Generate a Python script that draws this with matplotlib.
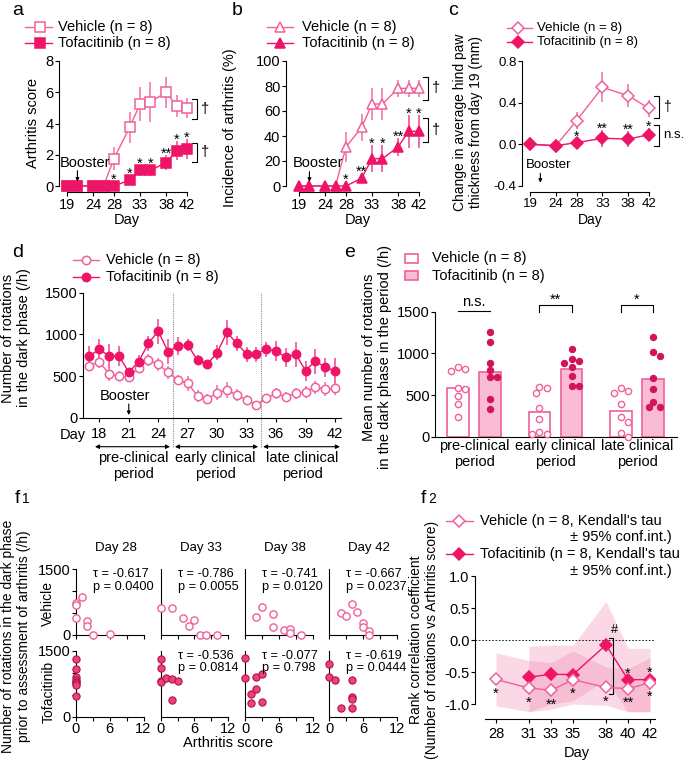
import numpy as np
import matplotlib
matplotlib.use('Agg')
import matplotlib.pyplot as plt
from matplotlib.lines import Line2D
from matplotlib.patches import Rectangle

plt.rcParams['font.family'] = ['Liberation Sans', 'DejaVu Sans']
plt.rcParams['font.size'] = 10.5
plt.rcParams['axes.linewidth'] = 0.8

# ---------------- data ----------------
days_ab = [19, 21, 24, 26, 28, 31, 33, 35, 38, 40, 42]
a_ticks = [19, 24, 28, 33, 38, 42]
a_vehicle = [0, 0, 0, 0, 1.75, 3.75, 5.25, 5.375, 6.0, 5.125, 5.0]
a_vehicle_sem = [0, 0, 0, 0, 0.75, 1.0, 1.1, 1.25, 1.0, 0.7, 0.65]
a_tofa = [0, 0, 0, 0, 0, 0.375, 1.0, 1.0, 1.5, 2.25, 2.375]
a_tofa_sem = [0, 0, 0, 0, 0, 0.2, 0.37, 0.35, 0.47, 0.6, 0.65]
a_stars = ['', '', '', '', '*', '*', '*', '*', '**', '*', '*']

b_vehicle = [0, 0, 0, 0, 31.25, 46.875, 65.625, 65.625, 78.125, 78.125, 78.125]
b_vehicle_sem = [0, 0, 0, 0, 12, 11, 12.5, 13, 7, 7, 7]
b_tofa = [0, 0, 0, 0, 0, 6.25, 21.875, 21.875, 31.25, 43.75, 43.75]
b_tofa_sem = [0, 0, 0, 0, 0, 3, 11, 11, 7.5, 13, 13]
b_stars = ['', '', '', '', '*', '**', '*', '*', '**', '*', '*']

days_c = [19, 24, 28, 33, 38, 42]
c_vehicle = [0, -0.013, 0.227, 0.547, 0.467, 0.345]
c_vehicle_sem = [0, 0.01, 0.08, 0.145, 0.11, 0.08]
c_tofa = [0, -0.013, 0.016, 0.058, 0.05, 0.093]
c_tofa_sem = [0, 0.01, 0.03, 0.08, 0.08, 0.065]
c_stars = ['', '', '*', '**', '**', '*']

days_d = list(range(17, 43))
d_ticks = [18, 21, 24, 27, 30, 33, 36, 39, 42]
d_vehicle = [624, 672, 524, 500, 484, 600, 692, 640, 544, 452, 412, 264, 224,
             300, 332, 272, 212, 152, 232, 292, 252, 292, 312, 364, 344, 352]
d_vehicle_sem = [60, 70, 80, 55, 60, 60, 70, 80, 80, 60, 90, 70, 60,
                 90, 100, 70, 60, 40, 50, 70, 60, 70, 70, 80, 80, 80]
d_tofa = [740, 820, 740, 740, 545, 672, 892, 1040, 792, 860, 872, 692, 644,
          780, 1024, 892, 764, 764, 824, 800, 724, 764, 564, 680, 604, 564]
d_tofa_sem = [120, 120, 140, 120, 50, 80, 90, 150, 150, 110, 70, 60, 40,
              90, 150, 90, 90, 90, 90, 120, 110, 150, 120, 150, 115, 150]

e_groups = ['pre-clinical\nperiod', 'early clinical\nperiod', 'late clinical\nperiod']
e_vehicle_mean = [580, 292, 304]
e_tofa_mean = [780, 808, 692]
e_vehicle_dots = [[816, 832, 788, 568, 580, 488, 392, 240],
                  [580, 600, 530, 340, 215, 30, 30, 60],
                  [548, 580, 528, 392, 232, 172, 40, 0]]
e_tofa_dots = [[1260, 1140, 880, 800, 720, 720, 448, 328],
               [1048, 932, 908, 880, 832, 728, 608, 608],
               [1200, 1020, 968, 708, 568, 420, 360, 352]]
e_sig = ['n.s.', '**', '*']

f1_days = ['Day 28', 'Day 33', 'Day 38', 'Day 42']
f1_veh_score = [[0, 0, 0, 1, 2, 2, 3, 6], [0, 2, 4, 5, 6, 7, 8, 10],
                [2, 3, 5, 5, 7, 8, 8, 10], [2, 3, 4, 5, 6, 6, 7, 7]]
f1_veh_rot = [[740, 685, 380, 875, 325, 205, 0, 25], [610, 610, 380, 205, 350, 0, 0, 0],
              [420, 630, 480, 175, 115, 130, 40, 0], [495, 435, 710, 530, 280, 175, 100, 0]]
f1_tof_score = [[0, 0, 0, 0, 0, 0, 0, 0], [0, 0, 0, 0, 1, 2, 3, 2],
                [0, 0, 1, 1, 2, 2, 3, 3], [0, 0, 1, 2, 4, 4, 4, 4]]
f1_tof_rot = [[1305, 1080, 895, 835, 795, 760, 720, 475], [1305, 1100, 811, 800, 886, 857, 811, 380],
              [1327, 886, 509, 318, 909, 623, 970, 341], [1198, 909, 834, 191, 834, 441, 396, 191]]
f1_veh_tau = ['-0.617', '-0.786', '-0.741', '-0.667']
f1_veh_p = ['0.0400', '0.0055', '0.0120', '0.0237']
f1_tof_tau = [None, '-0.536', '-0.077', '-0.619']
f1_tof_p = [None, '0.0814', '0.798', '0.0444']

f2_days_veh = [28, 31, 33, 35, 38, 40, 42]
f2_veh_tau = [-0.617, -0.75, -0.786, -0.62, -0.741, -0.76, -0.667]
f2_veh_lo = [-1.03, -1.12, -1.08, -1.0, -1.02, -1.12, -1.12]
f2_veh_hi = [-0.2, -0.32, -0.35, -0.17, -0.42, -0.45, -0.28]
f2_veh_stars = ['*', '*', '**', '*', '*', '**', '*']
f2_days_tof = [31, 33, 35, 38, 40, 42]
f2_tof_tau = [-0.58, -0.536, -0.54, -0.077, -0.62, -0.619]
f2_tof_lo = [-1.12, -1.0, -0.95, -0.62, -1.12, -1.12]
f2_tof_hi = [-0.1, -0.08, -0.08, 0.6, -0.13, -0.13]
f2_tof_stars = ['', '', '', '', '*', '*']
f2_ticks = [28, 31, 33, 35, 38, 40, 42]

# ---------------- styles ----------------
VEH = '#f0609a'
TOF = '#ee1468'
ERR_V = '#f384ae'
ERR_T = '#f2609a'
BAR_T = '#fabcd5'
DOT_T = '#d2145a'
F1_T = '#e6437f'
F1_TE = '#b8104c'

W, H = 685, 764
fig = plt.figure(figsize=(W / 100, H / 100), dpi=100)


def lin(d1, p1, d2, p2):
    k = (p2 - p1) / (d2 - d1)
    return lambda d: p1 + (d - d1) * k


def make_ax(xlim, ylim, xmap, ymap, fs=10.5):
    fx, fy = lin(*xmap), lin(*ymap)
    x0, x1 = fx(xlim[0]), fx(xlim[1])
    yt, yb = fy(ylim[1]), fy(ylim[0])
    ax = fig.add_axes([x0 / W, 1 - yb / H, (x1 - x0) / W, (yb - yt) / H])
    ax.set_xlim(xlim)
    ax.set_ylim(ylim)
    ax.patch.set_alpha(0)
    for s in ('top', 'right'):
        ax.spines[s].set_visible(False)
    ax.tick_params(direction='out', length=3, width=0.8, labelsize=fs, pad=1)
    return ax


def T(x, y, s, **kw):
    return fig.text(x / W, 1 - y / H, s, **kw)


def legend_line(x0, x1, xm, y, marker, ms, color, mfc, text, tx, fs=10.5):
    yy = 1 - y / H
    fig.add_artist(Line2D([x0 / W, x1 / W], [yy, yy], color=color, lw=1,
                          transform=fig.transFigure))
    fig.add_artist(Line2D([xm / W], [yy], marker=marker, ms=ms, mfc=mfc, mec=color,
                          mew=1.1, ls='none', transform=fig.transFigure))
    T(tx, y, text, va='center', ha='left', fontsize=fs)


def series(ax, x, y, e, marker, ms, color, mfc, ecolor):
    ax.errorbar(x, y, yerr=e, fmt='none', ecolor=ecolor, elinewidth=1.3,
                capsize=0, zorder=2, clip_on=False)
    ax.plot(x, y, color=color, lw=1, marker=marker, ms=ms, mfc=mfc, mec=color,
            mew=1.1, zorder=3, clip_on=False)


def stars(ax, x, top, labels, dy=-2, fs=10.5):
    for xi, ti, s in zip(x, top, labels):
        if s:
            ax.annotate(s, (xi, ti), xytext=(0, dy), textcoords='offset points',
                        ha='center', va='baseline', fontsize=fs, annotation_clip=False)


def bracket(ax, x0, x1, ylo, yhi, label, tx, fs=10.5):
    ax.plot([x0, x1, x1, x0], [yhi, yhi, ylo, ylo], color='k', lw=0.8, clip_on=False)
    ax.text(tx, (ylo + yhi) / 2, label, ha='left', va='center', fontsize=fs)


def booster(ax, xa, ya0, ya1, xt, yt, fs=10.5):
    ax.text(xt, yt, 'Booster', ha='center', va='center', fontsize=fs)
    ax.annotate('', xy=(xa, ya1), xytext=(xa, ya0),
                arrowprops=dict(arrowstyle='-|>', color='k', lw=0.8,
                                mutation_scale=5, shrinkA=0, shrinkB=0),
                annotation_clip=False)


# ---------------- panel a ----------------
ax = make_ax((17.47, 44), (-0.4, 8), (19, 67, 42, 187), (0, 186, 8, 61))
ax.spines['left'].set_bounds(0, 8)
ax.spines['bottom'].set_bounds(19, 42)
ax.set_xticks(a_ticks)
ax.set_yticks([0, 2, 4, 6, 8])
series(ax, days_ab, a_vehicle, a_vehicle_sem, 's', 6.5, VEH, 'white', ERR_V)
series(ax, days_ab, a_tofa, a_tofa_sem, 's', 6.5, TOF, TOF, ERR_T)
stars(ax, days_ab, np.array(a_tofa) + np.maximum(a_tofa_sem, 0.3), a_stars)
bracket(ax, 42.96, 43.92, 4.3, 5.6, '†', 44.7)
bracket(ax, 42.96, 43.92, 1.56, 2.73, '†', 44.7)
booster(ax, 21, 0.98, 0.28, 22.45, 1.49)
T(18, 15, 'a', fontsize=14, ha='center', va='baseline')
T(33, 123, 'Arthritis score', rotation=90, ha='center', va='center')
T(127, 220, 'Day', ha='center', va='center')
legend_line(25, 52, 40, 27, 's', 6.5, VEH, 'white', 'Vehicle (n = 8)', 58)
legend_line(25, 52, 40, 43, 's', 6.5, TOF, TOF, 'Tofacitinib (n = 8)', 58)

# ---------------- panel b ----------------
ax = make_ax((16.5, 44), (-5, 100), (19, 299, 42, 419), (0, 186, 100, 61))
ax.spines['left'].set_bounds(0, 100)
ax.spines['bottom'].set_bounds(19, 42)
ax.set_xticks(a_ticks)
ax.set_yticks([0, 20, 40, 60, 80, 100])
series(ax, days_ab, b_vehicle, b_vehicle_sem, '^', 7, VEH, 'white', ERR_V)
series(ax, days_ab, b_tofa, b_tofa_sem, '^', 7, TOF, TOF, ERR_T)
stars(ax, days_ab, np.array(b_tofa) + np.maximum(b_tofa_sem, 4), b_stars)
bracket(ax, 42.83, 43.67, 69, 87.5, '†', 44.5)
bracket(ax, 42.83, 43.67, 35.5, 54, '†', 44.5)
booster(ax, 21, 11.4, 3.4, 22.55, 18.4)
T(237, 15, 'b', fontsize=14, ha='center', va='baseline')
T(230, 128, 'Incidence of arthritis (%)', rotation=90, ha='center', va='center')
T(358, 220, 'Day', ha='center', va='center')
legend_line(267, 293, 280, 27, '^', 7, VEH, 'white', 'Vehicle (n = 8)', 302)
legend_line(267, 293, 280, 43, '^', 7, TOF, TOF, 'Tofacitinib (n = 8)', 302)

# ---------------- panel c ----------------
ax = make_ax((17.45, 44), (-0.46, 0.8), (19, 530, 42, 649), (0, 144.3, 0.8, 61), fs=9.5)
ax.spines['left'].set_bounds(-0.4, 0.8)
ax.spines['bottom'].set_bounds(19, 42)
ax.set_xticks(a_ticks)
ax.set_yticks([-0.4, 0.0, 0.4, 0.8])
ax.set_yticklabels(['-0.4', '0.0', '0.4', '0.8'])
series(ax, days_c, c_vehicle, c_vehicle_sem, 'D', 6, VEH, 'white', ERR_V)
series(ax, days_c, c_tofa, c_tofa_sem, 'D', 6, TOF, TOF, ERR_T)
stars(ax, days_c, np.array(c_tofa) + np.maximum(c_tofa_sem, 0.04), c_stars, fs=10)
bracket(ax, 42.98, 44.0, 0.25, 0.46, '†', 44.7, fs=10)
bracket(ax, 42.98, 44.0, -0.02, 0.19, 'n.s.', 44.7, fs=9.5)
booster(ax, 21, -0.279, -0.369, 22.67, -0.199, fs=9.5)
T(453, 15, 'c', fontsize=14, ha='center', va='baseline')
T(468, 122, 'Change in average hind paw\nthickness from day 19 (mm)', rotation=90,
  ha='center', va='center', fontsize=10, linespacing=1.1)
T(590, 220, 'Day', ha='center', va='center', fontsize=10)
legend_line(507, 532, 518, 28, 'D', 6, VEH, 'white', 'Vehicle (n = 8)', 537, fs=9.5)
legend_line(507, 532, 518, 42, 'D', 6, TOF, TOF, 'Tofacitinib (n = 8)', 537, fs=9.5)

# ---------------- panel d ----------------
ax = make_ax((16.34, 42.6), (0, 1500), (18, 99.3, 42, 335), (0, 417.7, 1500, 292.7))
ax.set_xticks(d_ticks)
ax.set_yticks([0, 500, 1000, 1500])
ax.tick_params(axis='x', pad=3.5)
series(ax, days_d, d_vehicle, d_vehicle_sem, 'o', 6, VEH, 'white', ERR_V)
series(ax, days_d, d_tofa, d_tofa_sem, 'o', 6, TOF, TOF, ERR_T)
for xv in (25.5, 34.5):
    ax.plot([xv, xv], [-352, 1500], ls=(0, (1, 1)), color='#888888', lw=0.8, clip_on=False)
for xa, xb in ((17.56, 25.2), (25.7, 34.17), (34.68, 42.5)):
    ax.annotate('', xy=(xb, -348), xytext=(xa, -348),
                arrowprops=dict(arrowstyle='<|-|>', color='k', lw=0.8, mutation_scale=6,
                                shrinkA=0, shrinkB=0), annotation_clip=False)
booster(ax, 21, 164, 32, 20.6, 260)
T(133, 466, 'pre-clinical\nperiod', ha='center', va='center', linespacing=1.1)
T(215, 466, 'early clinical\nperiod', ha='center', va='center', linespacing=1.1)
T(302, 466, 'late clinical\nperiod', ha='center', va='center', linespacing=1.1)
T(73, 435, 'Day', ha='center', va='center')
T(18, 257, 'd', fontsize=14, ha='center', va='baseline')
T(16, 338, 'Number of rotations\nin the dark phase (/h)', rotation=90, ha='center',
  va='center', linespacing=1.1)
legend_line(73, 99, 86, 260, 'o', 6, VEH, 'white', 'Vehicle (n = 8)', 106)
legend_line(73, 99, 86, 277, 'o', 6, TOF, TOF, 'Tofacitinib (n = 8)', 106)

# ---------------- panel e ----------------
ax = make_ax((-0.475, 2.49), (0, 1500), (0, 474, 2, 637), (0, 436.7, 1500, 311.7))
ax.set_yticks([0, 500, 1000, 1500])
ax.set_xticks([0, 1, 2])
ax.set_xticklabels(e_groups, linespacing=1.1)
ax.tick_params(axis='x', length=0, pad=2)
off = 0.197
bw = 0.266
xpx, ypx = 81.5, 125 / 1500


def swarm(vals, d_px=6.5):
    vals = np.asarray(vals, float)
    order = np.argsort(vals)[::-1]
    placed = []
    xs = np.zeros(len(vals))
    for i in order:
        y = vals[i] * ypx
        x = 0.0
        for k in (0, 1, -1, 2, -2, 3, -3):
            x = k * d_px * 0.55
            if all((x - a) ** 2 + (y - b) ** 2 >= d_px ** 2 for a, b in placed):
                break
        placed.append((x, y))
        xs[i] = x / xpx
    return xs


for i in range(3):
    ax.bar(i - off, e_vehicle_mean[i], width=bw, facecolor='white', edgecolor=VEH, lw=1.2, zorder=2)
    ax.bar(i + off, e_tofa_mean[i], width=bw, facecolor=BAR_T, edgecolor=VEH, lw=1.2, zorder=2)
    ax.plot(i - off + swarm(e_vehicle_dots[i]), e_vehicle_dots[i], 'o', ms=4.5, mfc='white',
            mec=VEH, mew=1, zorder=3, clip_on=False)
    ax.plot(i + off + swarm(e_tofa_dots[i]), e_tofa_dots[i], 'o', ms=4.5, mfc=DOT_T,
            mec=DOT_T, mew=0.8, zorder=3, clip_on=False)
    if e_sig[i] == 'n.s.':
        ax.plot([i - off, i + off], [1512, 1512], color='k', lw=0.8, clip_on=False)
        ax.annotate('n.s.', (i, 1512), xytext=(0, 1), textcoords='offset points',
                    ha='center', va='bottom', annotation_clip=False)
    else:
        ax.plot([i - off, i - off, i + off, i + off], [1500, 1580, 1580, 1500], color='k',
                lw=0.8, clip_on=False)
        ax.annotate(e_sig[i], (i, 1580), xytext=(0, 1.2), textcoords='offset points',
                    ha='center', va='baseline', annotation_clip=False)
T(350, 257, 'e', fontsize=14, ha='center', va='baseline')
T(377, 357, 'Mean number of rotations\nin the dark phase in the period (/h)', rotation=90,
  ha='center', va='center', linespacing=1.1)
for yy, fc, txt in ((258, 'white', 'Vehicle (n = 8)'), (275.7, BAR_T, 'Tofacitinib (n = 8)')):
    fig.add_artist(Rectangle((405 / W, 1 - (yy + 4.5) / H), 13 / W, 9 / H, facecolor=fc,
                             edgecolor=VEH, lw=1.2, transform=fig.transFigure))
    T(432, yy, txt, va='center', ha='left')

# ---------------- panel f1 ----------------
axis_x = [76, 160.7, 245, 329.3]
T(17, 503, 'f', fontsize=14, ha='center', va='baseline')
T(22, 503, '1', fontsize=10, ha='left', va='baseline')
for c in range(4):
    for r, (ymap, sc, rot) in enumerate((((0, 635, 1500, 569.3), f1_veh_score, f1_veh_rot),
                                          ((0, 716.7, 1500, 650.7), f1_tof_score, f1_tof_rot))):
        ax = make_ax((0, 12), (0, 1500), (0, axis_x[c], 12, axis_x[c] + 67.5), ymap)
        ax.set_xticks([0, 3, 6, 9, 12])
        if r == 1:
            ax.set_xticklabels(['0', '', '6', '', '12'])
            ax.tick_params(axis='x', pad=0.5)
        else:
            ax.set_xticklabels([])
        if c == 0:
            ax.set_yticks([0, 500, 1000, 1500])
            ax.set_yticklabels(['0', '', '', '1500'])
        else:
            ax.set_yticks([])
        if r == 0:
            ax.plot(sc[c], rot[c], 'o', ms=5.2, mfc='white', mec=VEH, mew=1, clip_on=False, zorder=3)
            tau, p = f1_veh_tau[c], f1_veh_p[c]
            ty = 574.3
        else:
            ax.plot(sc[c], rot[c], 'o', ms=5.2, mfc=F1_T, mec=F1_TE, mew=0.8, clip_on=False, zorder=3)
            tau, p = f1_tof_tau[c], f1_tof_p[c]
            ty = 656
        if tau is not None:
            T(axis_x[c] + 17, ty, 'τ = ' + tau, ha='left', va='center', fontsize=9.2)
            T(axis_x[c] + 17, ty + 12.5, 'p = ' + p, ha='left', va='center', fontsize=9.2)
    T(axis_x[c] + 40, 548.3, f1_days[c], ha='center', va='center', fontsize=9.5)
T(48, 603, 'Vehicle', rotation=90, ha='center', va='center', fontsize=10)
T(49, 692, 'Tofacitinib', rotation=90, ha='center', va='center', fontsize=10)
T(16, 636, 'Number of rotations in the dark phase\nprior to assessment of arthritis (/h)',
  rotation=90, ha='center', va='center', fontsize=10, linespacing=1.15)
T(228, 743, 'Arthritis score', ha='center', va='center')

# ---------------- panel f2 ----------------
ax = make_ax((26.1, 42.45), (-1.234, 1.0), (28, 496, 42, 650), (0, 640, 1, 576))
ax.spines['left'].set_bounds(-1, 1)
ax.spines['bottom'].set_bounds(27, 42.45)
ax.set_xticks(f2_ticks)
ax.set_yticks([-1, -0.5, 0, 0.5, 1])
ax.set_yticklabels(['-1.0', '-0.5', '0.0', '0.5', '1.0'])
ax.tick_params(axis='x', pad=3)
ax.fill_between(f2_days_veh, f2_veh_lo, f2_veh_hi, color='#f080aa', alpha=0.3, lw=0, zorder=1)
ax.fill_between(f2_days_tof, f2_tof_lo, f2_tof_hi, color='#f080aa', alpha=0.3, lw=0, zorder=1)
ax.plot([26.1, 42.45], [0, 0], ls=(0, (2, 2)), color='k', lw=0.6, zorder=1)
ax.plot(f2_days_veh, f2_veh_tau, color=VEH, lw=1, marker='D', ms=6.5, mfc='white', mec=VEH,
        mew=1.1, zorder=4)
ax.plot(f2_days_tof, f2_tof_tau, color=TOF, lw=1, marker='D', ms=6.5, mfc=TOF, mec=TOF,
        mew=1.1, zorder=3)
stars(ax, f2_days_veh, np.array(f2_veh_tau) - 0.16, f2_veh_stars, dy=-6)
stars(ax, f2_days_tof, np.array(f2_tof_tau) + 0.08, f2_tof_stars, dy=-2)
ax.plot([38.24, 38.66, 38.66, 38.24], [0.036, 0.036, -0.84, -0.84], color='k', lw=0.8)
ax.text(38.75, 0.15, '#', ha='center', va='center', fontsize=9)
T(423, 503, 'f', fontsize=14, ha='center', va='baseline')
T(428, 503, '2', fontsize=10, ha='left', va='baseline')
T(424, 640, 'Rank correlation coefficient\n(Number of rotations vs Arthritis score)',
  rotation=90, ha='center', va='center', fontsize=10, linespacing=1.15)
T(577, 753, 'Day', ha='center', va='center')
legend_line(446, 473, 459.3, 520.7, 'D', 6.5, VEH, 'white', "Vehicle (n = 8, Kendall's tau", 480)
T(671.7, 537, '± 95% conf.int.)', ha='right', va='center')
legend_line(446, 473, 459.3, 554, 'D', 6.5, TOF, TOF, "Tofacitinib (n = 8, Kendall's tau", 480)
T(671.7, 571, '± 95% conf.int.)', ha='right', va='center')

fig.savefig('out.png', dpi=100)
